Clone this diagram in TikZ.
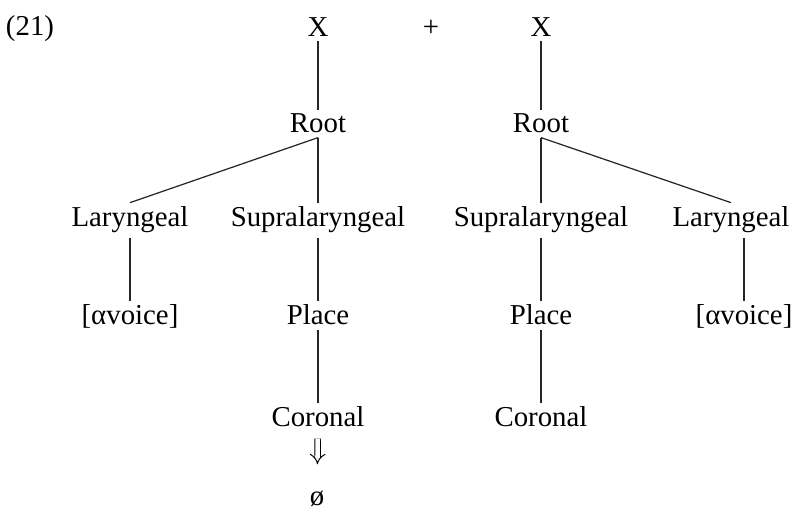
\documentclass[tikz,border=0pt]{standalone}
\usepackage{fontspec}
\setmainfont{Liberation Serif}
\usetikzlibrary{arrows.meta,positioning}

\begin{document}
\begin{tikzpicture}[
    seg/.style={font=\fontsize{16.4}{19}\selectfont, anchor=base, inner sep=0.08cm},
    branch/.style={draw=black!85, line width=0.7pt},
    rewrite/.style={double, double distance=2.6pt, line width=0.55pt, -{Implies}, shorten <=0.14cm, shorten >=0.46cm}
]
    \useasboundingbox (0,0) rectangle (15.84,10.28);

    % Example number and the two timing slots
    \node[seg] (ex) at (0.6,9.56) {(21)};
    \node[seg] (xL) at (6.36,9.54) {X};
    \node[seg] (plus) at (8.62,9.54) {+};
    \node[seg] (xR) at (10.82,9.54) {X};

    % Root nodes
    \node[seg] (rootL) at (6.36,7.62) {Root};
    \node[seg] (rootR) at (10.82,7.62) {Root};

    % Laryngeal / supralaryngeal tier
    \node[seg] (laryL) at (2.6,5.74) {Laryngeal};
    \node[seg] (supraL) at (6.36,5.74) {Supralaryngeal};
    \node[seg] (supraR) at (10.82,5.74) {Supralaryngeal};
    \node[seg] (laryR) at (14.62,5.74) {Laryngeal};

    % Features and place
    \node[seg] (voiceL) at (2.6,3.78) {[αvoice]};
    \node[seg] (placeL) at (6.36,3.78) {Place};
    \node[seg] (placeR) at (10.82,3.78) {Place};
    \node[seg] (voiceR) at (14.88,3.78) {[αvoice]};

    % Coronal and deletion
    \node[seg] (corL) at (6.36,1.74) {Coronal};
    \node[seg] (corR) at (10.82,1.74) {Coronal};
    \node[seg] (null) at (6.34,0.16) {ø};

    % Left tree
    \draw[branch] (xL) -- (rootL);
    \draw[branch] (rootL.south) -- (laryL.north);
    \draw[branch] (rootL) -- (supraL);
    \draw[branch] (laryL) -- (voiceL);
    \draw[branch] (supraL) -- (placeL);
    \draw[branch] (placeL) -- (corL);
    \draw[rewrite] (corL) -- (null);

    % Right tree
    \draw[branch] (xR) -- (rootR);
    \draw[branch] (rootR) -- (supraR);
    \draw[branch] (rootR.south) -- (laryR.north);
    \draw[branch] (supraR) -- (placeR);
    \draw[branch] (placeR) -- (corR);
    \draw[branch] (voiceR.north |- laryR.south) -- (voiceR);
\end{tikzpicture}
\end{document}
